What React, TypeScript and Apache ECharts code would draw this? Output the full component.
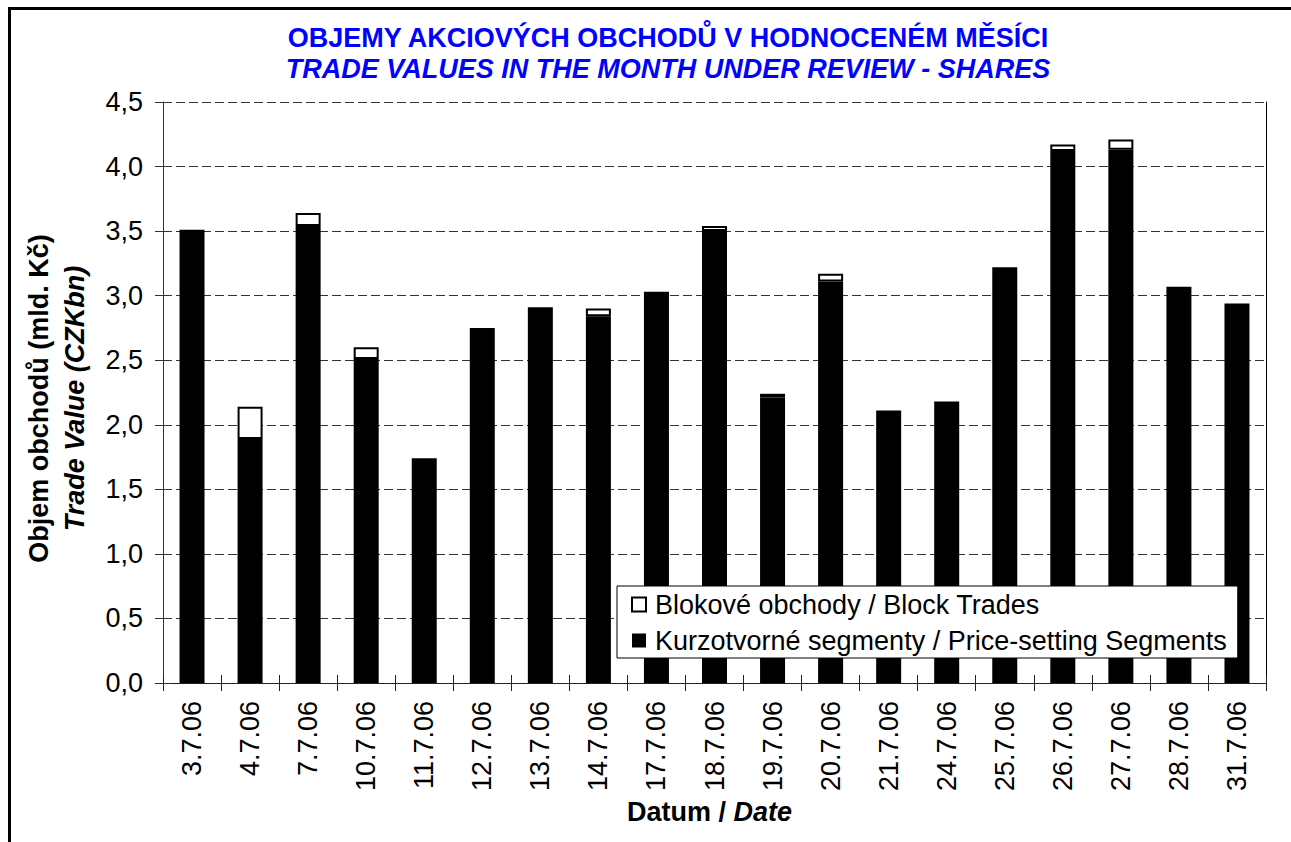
import React, { useEffect, useRef } from "react";
import * as echarts from "echarts";

const categories = [
  "3.7.06", "4.7.06", "7.7.06", "10.7.06", "11.7.06", "12.7.06", "13.7.06",
  "14.7.06", "17.7.06", "18.7.06", "19.7.06", "20.7.06", "21.7.06", "24.7.06",
  "25.7.06", "26.7.06", "27.7.06", "28.7.06", "31.7.06",
];
const priceSetting = [
  3.51, 1.89, 3.54, 2.51, 1.74, 2.75, 2.91, 2.84, 3.03, 3.5, 2.21, 3.11, 2.11,
  2.18, 3.22, 4.12, 4.13, 3.07, 2.94,
];
const blockTrades = [
  0, 0.25, 0.1, 0.09, 0, 0, 0, 0.06, 0, 0.04, 0.03, 0.06, 0, 0, 0, 0.05, 0.08,
  0, 0,
];
const titleLine1 = "OBJEMY AKCIOVÝCH OBCHODŮ V HODNOCENÉM MĚSÍCI";
const titleLine2 = "TRADE VALUES IN THE MONTH UNDER REVIEW - SHARES";
const seriesNames = [
  "Kurzotvorné segmenty / Price-setting Segments",
  "Blokové obchody / Block Trades",
];

const FONT = 'Arial, "Liberation Sans", sans-serif';
const FS = 27;

export default function App() {
  const ref = useRef<HTMLDivElement>(null);
  useEffect(() => {
    if (!ref.current) return;
    const chart = echarts.init(ref.current, null, { renderer: "svg" });
    const gridLeft = 163;
    const gridTop = 102;
    const gridRight = 1291 - 1266;
    const gridBottom = 842 - 683;
    const yMin = 0, yMax = 4.5, yInt = 0.5;
    chart.setOption({
      animation: false,
      backgroundColor: "#ffffff",
      textStyle: { fontFamily: FONT },
      grid: { left: gridLeft, top: gridTop, right: gridRight, bottom: gridBottom, containLabel: false },
      graphic: [
        { type: "line", shape: { x1: 8, y1: 8.5, x2: 1291, y2: 8.5 }, style: { stroke: "#000", lineWidth: 3 } },
        { type: "line", shape: { x1: 9.5, y1: 7, x2: 9.5, y2: 842 }, style: { stroke: "#000", lineWidth: 3 } },
        {
          type: "text", x: 668, y: 38,
          style: { text: titleLine1, fill: "#0000ff", fontSize: 27, fontWeight: "bold", fontFamily: FONT, align: "center", verticalAlign: "middle" },
        },
        {
          type: "text", x: 668, y: 69,
          style: { text: titleLine2, fill: "#0000ff", fontSize: 27, fontWeight: "bold", fontStyle: "italic", fontFamily: FONT, align: "center", verticalAlign: "middle" },
        },
      ],
      legend: {
        orient: "vertical",
        left: 617,
        top: 586,
        data: [seriesNames[1], seriesNames[0]],
        backgroundColor: "#ffffff",
        borderColor: "#000",
        borderWidth: 1,
        padding: [5, 11, 4, 14],
        itemGap: 9,
        itemWidth: 14,
        itemHeight: 14,
        icon: "rect",
        textStyle: { fontSize: FS, color: "#000", fontFamily: FONT, padding: [0, 0, 0, 4] },
      },
      xAxis: [
        {
          type: "category",
          data: categories,
          position: "bottom",
          axisLine: { show: true, lineStyle: { color: "#222", width: 1 } },
          axisTick: { show: true, alignWithLabel: false, length: 8, lineStyle: { color: "#222" } },
          axisLabel: { rotate: 90, fontSize: FS, color: "#000", margin: 18, fontFamily: FONT, interval: 0 },
          name: "{b|Datum / }{bi|Date}",
          nameLocation: "middle",
          nameGap: 115,
          nameTextStyle: {
            padding: [0, 10, 0, 0],
            rich: {
              b: { fontSize: FS, fontWeight: "bold", color: "#000", fontFamily: FONT },
              bi: { fontSize: FS, fontWeight: "bold", fontStyle: "italic", color: "#000", fontFamily: FONT },
            },
          },
        },
        {
          type: "category",
          data: categories,
          position: "bottom",
          axisLine: { show: false },
          axisTick: { show: true, inside: true, length: 8, lineStyle: { color: "#222" } },
          axisLabel: { show: false },
          splitLine: { show: false },
        },
      ],
      yAxis: [
        {
          type: "value",
          min: yMin,
          max: yMax,
          interval: yInt,
          position: "left",
          axisLine: { show: true, lineStyle: { color: "#333", width: 1 } },
          axisTick: { show: true, length: 8, lineStyle: { color: "#333" } },
          axisLabel: {
            fontSize: FS, color: "#000", margin: 20, fontFamily: FONT,
            formatter: (v: number) => v.toFixed(1).replace(".", ","),
          },
          splitLine: { show: true, lineStyle: { color: "#333", width: 1, type: [9, 4] } },
          name: "{a|Objem obchodů (mld. Kč)}\n{b|Trade Value (CZKbn)}",
          nameLocation: "middle",
          nameRotate: 90,
          nameGap: 70,
          nameTextStyle: {
            align: "center",
            padding: [0, 12, 0, 0],
            rich: {
              a: { fontSize: FS, fontWeight: "bold", color: "#000", fontFamily: FONT, lineHeight: 36 },
              b: { fontSize: FS, fontWeight: "bold", fontStyle: "italic", color: "#000", fontFamily: FONT, lineHeight: 36 },
            },
          },
        },
        {
          type: "value",
          min: yMin,
          max: yMax,
          interval: yInt,
          position: "right",
          axisLine: { show: true, lineStyle: { color: "#000", width: 1 } },
          axisTick: { show: false },
          axisLabel: { show: false },
          splitLine: { show: false },
        },
        {
          type: "value",
          min: yMin,
          max: yMax,
          interval: yInt,
          position: "left",
          offset: 0,
          axisLine: { show: false },
          axisTick: { show: true, inside: true, length: 8, lineStyle: { color: "#333" } },
          axisLabel: { show: false },
          splitLine: { show: false },
        },
      ],
      series: [
        {
          name: seriesNames[0],
          type: "bar",
          stack: "total",
          barWidth: 25,
          data: priceSetting,
          itemStyle: { color: "#000000", borderColor: "#000", borderWidth: 0 },
        },
        {
          name: seriesNames[1],
          type: "bar",
          stack: "total",
          barWidth: 25,
          data: blockTrades.map((v) => (v > 0 ? v : null)),
          itemStyle: { color: "#ffffff", borderColor: "#000000", borderWidth: 2 },
        },
      ],
    });
    return () => chart.dispose();
  }, []);
  return (
    <div
      ref={ref}
      style={{ position: "fixed", left: 0, top: 0, width: 1291, height: 842, background: "#fff" }}
    />
  );
}
